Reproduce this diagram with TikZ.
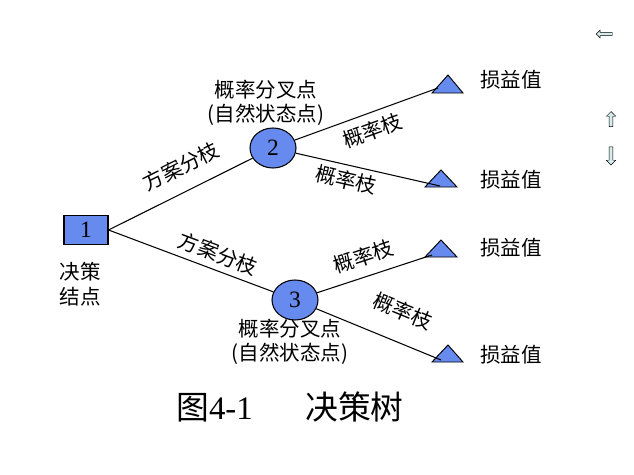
\documentclass[tikz,border=0pt]{standalone}
\usepackage{fontspec}
\setmainfont{Liberation Serif}
\newfontfamily\cjk{Noto Sans CJK SC}
\usetikzlibrary{shapes.geometric,shapes.arrows}
\definecolor{nodeblue}{RGB}{102,138,238}
\definecolor{navfill}{RGB}{214,236,236}
\tikzset{
  link/.style={line width=0.9pt},
  decbox/.style={draw, line width=0.9pt, fill=nodeblue, minimum width=1.32cm, minimum height=0.87cm, font=\fontsize{20}{22}\selectfont},
  chance/.style={draw, line width=0.9pt, ellipse, fill=nodeblue, minimum width=1.38cm, minimum height=1.2cm, font=\fontsize{20}{22}\selectfont},
  tri/.style={draw, line width=0.8pt, fill=nodeblue},
  lbl/.style={font=\cjk\fontsize{17.5}{21}\selectfont, align=center},
  nav/.style={single arrow, draw, fill=navfill, inner sep=1.1pt, single arrow head extend=0.07cm}
}
\begin{document}
\begin{tikzpicture}[x=0.03cm, y=-0.03cm]
\useasboundingbox (0,0) rectangle (634,475);
% nodes
\node[decbox] (n1) at (86,230) {1};
\node[chance] (n2) at (273,148) {2};
\node[chance] (n3) at (295,300) {3};
% end points
\draw[tri] (432,93) -- (448,75) -- (463,93) -- cycle;
\draw[tri] (425,187) -- (441,170) -- (457,187) -- cycle;
\draw[tri] (425,257) -- (441,240) -- (457,257) -- cycle;
\draw[tri] (432,362) -- (448,345) -- (463,362) -- cycle;
\coordinate (t1) at (438,88);
\coordinate (t2) at (440,186);
\coordinate (t3) at (432,255);
\coordinate (t4) at (441,360);
% branches
\draw[link] (n1.east) -- node[lbl, sloped, above=9pt, pos=0.58] {方案分枝} (n2);
\draw[link] (n1.east) -- node[lbl, sloped, above=2pt, pos=0.63] {方案分枝} (n3);
\draw[link] (n2) -- node[lbl, sloped, below=3pt, pos=0.5] {概率枝} (t1);
\draw[link] (n2) -- node[lbl, sloped, below=1pt, pos=0.37] {概率枝} (t2);
\draw[link] (n3) -- node[lbl, sloped, above=5pt, pos=0.46] {概率枝} (t3);
\draw[link] (n3) -- node[lbl, sloped, above=14pt, pos=0.6] {概率枝} (t4);
% labels
\node[lbl] (l1) at (80,284) {决策\\结点};
\node[lbl] (l2) at (266,103) {概率分叉点\\(自然状态点)};
\node[lbl] (l3) at (290,342) {概率分叉点\\(自然状态点)};
\node[lbl] (v1) at (511,80) {损益值};
\node[lbl] (v2) at (511,180) {损益值};
\node[lbl] (v3) at (511,248) {损益值};
\node[lbl] (v4) at (511,355) {损益值};
% caption
\node[font=\fontsize{28}{32}\selectfont] (cap) at (290,407) {{\cjk 图}4-1\hspace{1.6em}{\cjk 决策树}};
% navigation
\node[nav, shape border rotate=180, minimum height=0.48cm, minimum width=0.2cm] (back) at (605,34) {};
\node[nav, shape border rotate=90, minimum height=0.45cm, minimum width=0.28cm] (up) at (611,120) {};
\node[nav, shape border rotate=270, minimum height=0.54cm, minimum width=0.28cm] (down) at (611,155) {};
\end{tikzpicture}
\end{document}
